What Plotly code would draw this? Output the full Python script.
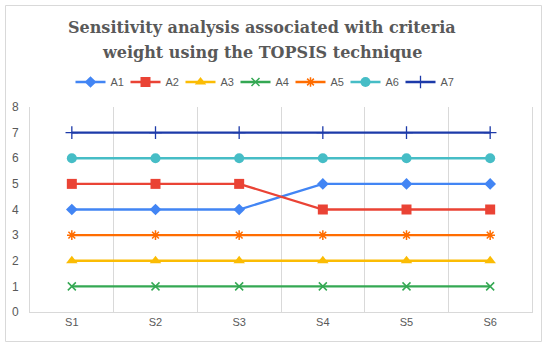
import plotly.graph_objects as go

categories = ["S1", "S2", "S3", "S4", "S5", "S6"]
A1 = [4, 4, 4, 5, 5, 5]
A2 = [5, 5, 5, 4, 4, 4]
A3 = [2, 2, 2, 2, 2, 2]
A4 = [1, 1, 1, 1, 1, 1]
A5 = [3, 3, 3, 3, 3, 3]
A6 = [6, 6, 6, 6, 6, 6]
A7 = [7, 7, 7, 7, 7, 7]
y_ticks = [0, 1, 2, 3, 4, 5, 6, 7, 8]
title_lines = ["Sensitivity analysis associated with criteria",
               "weight using the TOPSIS technique"]

series = [
    ("A1", A1, "#4285F4", "diamond", 9, 0),
    ("A2", A2, "#EA4335", "square", 10, 0),
    ("A3", A3, "#FBBC04", "triangle-up", 10, 0),
    ("A4", A4, "#34A853", "x-thin", 8, 1.5),
    ("A5", A5, "#FF6D01", "asterisk", 8, 1.5),
    ("A6", A6, "#46BDC6", "circle", 10, 0),
    ("A7", A7, "#1C3AA9", "cross-thin", 9, 1.3),
]

fig = go.Figure()
for name, vals, color, sym, size, lw in series:
    fig.add_trace(go.Scatter(
        x=categories, y=vals, name=name, mode="lines+markers",
        line=dict(color=color, width=2.3),
        marker=dict(symbol=sym, size=size, color=color,
                    line=dict(color=color, width=lw)),
    ))

W, H = 550, 345
ml, mr, mt, mb = 30, 18, 107, 33
pw, ph = W - ml - mr, H - mt - mb

def px2x(px):
    return (px - ml) / pw

def py2y(py):
    return (H - mb - py) / ph

fig.add_shape(type="rect", xref="paper", yref="paper",
              x0=px2x(5.5), x1=px2x(541.5), y0=py2y(341.5), y1=py2y(5.5),
              line=dict(color="#D9D9D9", width=1), fillcolor="rgba(0,0,0,0)",
              layer="below")

for i, (line, py) in enumerate(zip(title_lines, [27, 52])):
    fig.add_annotation(
        text=line, xref="paper", yref="paper", x=px2x(262), y=py2y(py),
        xanchor="center", yanchor="middle", showarrow=False,
        font=dict(family="DejaVu Serif", size=16, color="#595959", weight="bold"),
    )

fig.update_layout(
    width=W, height=H,
    margin=dict(l=ml, r=mr, t=mt, b=mb, autoexpand=False),
    paper_bgcolor="white", plot_bgcolor="white",
    legend=dict(orientation="h", x=px2x(263), xanchor="center", y=py2y(82), yanchor="middle",
                font=dict(family="Liberation Sans", size=11, color="#595959"),
                entrywidth=10, entrywidthmode="pixels",
                itemwidth=30, tracegroupgap=0, bgcolor="rgba(0,0,0,0)"),
    showlegend=True,
)
fig.update_xaxes(
    type="category", tickson="boundaries", showgrid=True, gridcolor="#D9D9D9",
    gridwidth=1, showline=True, linecolor="#D9D9D9", ticks="",
    range=[-0.5, 5.5],
    tickfont=dict(family="Liberation Sans", size=11, color="#595959"),
    zeroline=False,
)
fig.update_yaxes(
    range=[0, 8], tickvals=y_ticks, showgrid=False, showline=True, mirror=True,
    linecolor="#D9D9D9", zeroline=False, ticklabelstandoff=8,
    tickfont=dict(family="Liberation Sans", size=12, color="#595959"), ticks="",
)

fig.write_html("out.html", config={"displayModeBar": False},
               post_script="document.body.style.margin='0';document.body.style.padding='0';")
